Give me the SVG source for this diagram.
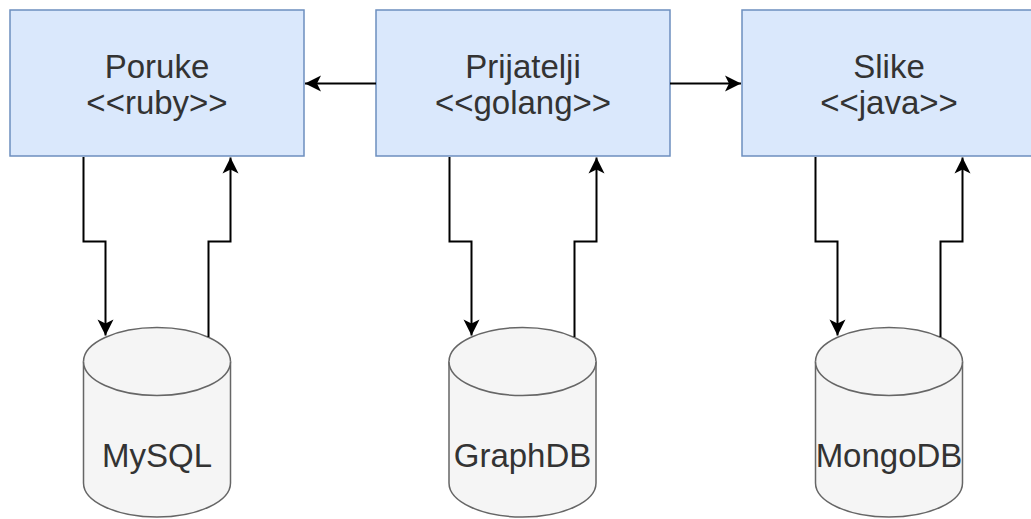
<svg xmlns="http://www.w3.org/2000/svg" width="1031" height="519" viewBox="0 0 1031 519">
<style>
.box{fill:#dae8fc;stroke:#6c8ebf;stroke-width:1.5}
.cyl{fill:#f5f5f5;stroke:#666666;stroke-width:1.5}
.t{font-family:"Liberation Sans",Arial,sans-serif;font-size:33px;fill:#333333;text-anchor:middle}
.c{fill:none;stroke:#000000;stroke-width:2}
</style>
<defs>
<marker id="arr" markerUnits="userSpaceOnUse" markerWidth="20" markerHeight="20" viewBox="0 0 20 20" refX="18" refY="10" orient="auto">
<path d="M 2 2 L 18 10 L 2 18 L 6 10 Z" fill="#000000"/>
</marker>
</defs>
<rect width="1031" height="519" fill="#ffffff"/>
<g id="poruke">
<rect class="box" x="10" y="10" width="294" height="146"/>
<text class="t" x="157" y="77.5">Poruke</text>
<text class="t" x="157" y="114">&lt;&lt;ruby&gt;&gt;</text>
</g>
<g id="prijatelji">
<rect class="box" x="376" y="10" width="294" height="146"/>
<text class="t" x="523" y="77.5">Prijatelji</text>
<text class="t" x="523" y="114">&lt;&lt;golang&gt;&gt;</text>
</g>
<g id="slike">
<rect class="box" x="742" y="10" width="294" height="146"/>
<text class="t" x="889" y="77.5">Slike</text>
<text class="t" x="889" y="114">&lt;&lt;java&gt;&gt;</text>
</g>
<g id="mysql">
<path class="cyl" d="M 83.5 361.5 A 73.5 34 0 0 1 230.5 361.5 V 483 A 73.5 34 0 0 1 83.5 483 Z"/>
<path class="cyl" fill="none" d="M 83.5 361.5 A 73.5 34 0 0 0 230.5 361.5"/>
<text class="t" x="157" y="466.5">MySQL</text>
</g>
<g id="graphdb">
<path class="cyl" d="M 449 361.5 A 73.5 34 0 0 1 596 361.5 V 483 A 73.5 34 0 0 1 449 483 Z"/>
<path class="cyl" fill="none" d="M 449 361.5 A 73.5 34 0 0 0 596 361.5"/>
<text class="t" x="522.5" y="466.5">GraphDB</text>
</g>
<g id="mongodb">
<path class="cyl" d="M 815.5 361.5 A 73.5 34 0 0 1 962.5 361.5 V 483 A 73.5 34 0 0 1 815.5 483 Z"/>
<path class="cyl" fill="none" d="M 815.5 361.5 A 73.5 34 0 0 0 962.5 361.5"/>
<text class="t" x="889" y="466.5">MongoDB</text>
</g>
<g id="connectors">
<path class="c" d="M 376 83.5 L 305 83.5" marker-end="url(#arr)"/>
<path class="c" d="M 670 83.5 L 741 83.5" marker-end="url(#arr)"/>
<path class="c" d="M 83.5 157 V 241.5 H 105.5 V 335.5" marker-end="url(#arr)"/>
<path class="c" d="M 208.5 337 V 241.5 H 230.5 V 157.5" marker-end="url(#arr)"/>
<path class="c" d="M 449.5 157 V 241.5 H 471.5 V 335.5" marker-end="url(#arr)"/>
<path class="c" d="M 574.5 337 V 241.5 H 596.5 V 157.5" marker-end="url(#arr)"/>
<path class="c" d="M 815.5 157 V 241.5 H 837.5 V 335.5" marker-end="url(#arr)"/>
<path class="c" d="M 940.5 337 V 241.5 H 962.5 V 157.5" marker-end="url(#arr)"/>
</g>
</svg>
